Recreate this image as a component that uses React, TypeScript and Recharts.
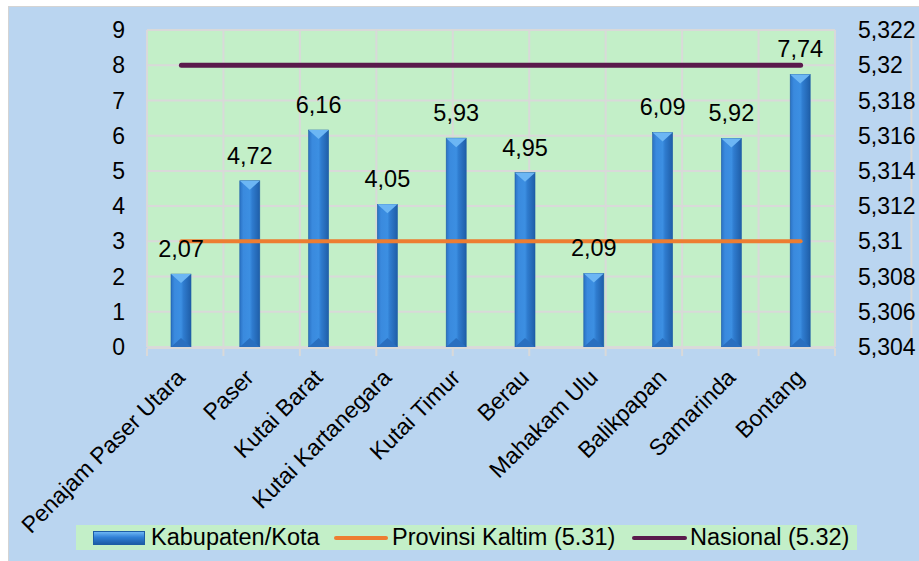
import React from 'react';
import { ComposedChart, Bar, Line, XAxis, YAxis, CartesianGrid, LabelList } from 'recharts';

const categories = [
  'Penajam Paser Utara', 'Paser', 'Kutai Barat', 'Kutai Kartanegara', 'Kutai Timur',
  'Berau', 'Mahakam Ulu', 'Balikpapan', 'Samarinda', 'Bontang',
];
const kabKota = [2.07, 4.72, 6.16, 4.05, 5.93, 4.95, 2.09, 6.09, 5.92, 7.74];
const provinsi = [5.31, 5.31, 5.31, 5.31, 5.31, 5.31, 5.31, 5.31, 5.31, 5.31];
const nasional = [5.32, 5.32, 5.32, 5.32, 5.32, 5.32, 5.32, 5.32, 5.32, 5.32];

const leftTicks = [0, 1, 2, 3, 4, 5, 6, 7, 8, 9];
const rightTicks = [5.304, 5.306, 5.308, 5.31, 5.312, 5.314, 5.316, 5.318, 5.32, 5.322];
const boundaryTicks = [0, 1, 2, 3, 4, 5, 6, 7, 8, 9, 10];

const data = categories.map((name, i) => ({
  name,
  value: kabKota[i],
  prov: provinsi[i],
  nas: nasional[i],
}));

const FONT = '"Liberation Sans", Arial, sans-serif';
const GRID = '#d9d9d9';
const ORANGE = '#ed7d31';
const PURPLE = '#5a1a4c';

const comma = (v: number) => Number(v.toFixed(3)).toString().replace('.', ',');

// bar with a bevelled, 3D-ish look like the office chart
const BevelBar = (props: any) => {
  const { x, y, width, height } = props;
  if (height <= 0) return null;
  const tri = Math.min(9, height / 2);
  return (
    <g>
      <rect x={x} y={y} width={width} height={height} fill="url(#barGrad)" stroke="#1d5da6" strokeWidth={0.6} />
      <polygon points={`${x},${y} ${x + width},${y} ${x + width / 2},${y + tri}`} fill="#6cb6f4" />
      <polygon points={`${x},${y + height} ${x + width},${y + height} ${x + width / 2},${y + height - tri}`} fill="#2a6fbf" />
    </g>
  );
};

const CatTick = (props: any) => {
  const { x, y, payload } = props;
  return (
    <g transform={`translate(${x + 5},${y + 24})`}>
      <text x={0} y={0} transform="rotate(-45)" textAnchor="end" fontSize={23} fontFamily={FONT} fill="#000">
        {payload.value}
      </text>
    </g>
  );
};

const legendText = { position: 'absolute' as const, top: 0 };

const LegendBox = () => (
  <div
    style={{
      position: 'absolute', left: 67, top: 518, width: 781, height: 25,
      background: '#c3efc8', fontFamily: FONT, fontSize: 23.5, color: '#000',
      lineHeight: '25px', whiteSpace: 'nowrap',
    }}
  >
    <div style={{ position: 'absolute', left: 17, top: 6, width: 52, height: 14, background: 'linear-gradient(#6cb6f4, #2f7fd6 45%, #1d5da6)', border: '1px solid #1d5da6', boxSizing: 'border-box' }} />
    <span style={{ ...legendText, left: 75 }}>Kabupaten/Kota</span>
    <div style={{ position: 'absolute', left: 258, top: 11, width: 54, height: 4, borderRadius: 2, background: ORANGE }} />
    <span style={{ ...legendText, left: 316 }}>Provinsi Kaltim (5.31)</span>
    <div style={{ position: 'absolute', left: 556, top: 11, width: 55, height: 4, borderRadius: 2, background: PURPLE }} />
    <span style={{ ...legendText, left: 614 }}>Nasional (5.32)</span>
  </div>
);

export default function App() {
  return (
    <div style={{ position: 'absolute', left: 0, top: 0, width: 919, height: 561, background: '#fff', overflow: 'hidden' }}>
      <div
        style={{
          position: 'absolute', left: 8, top: 6, width: 912, height: 556,
          background: '#bad5f0', border: '1px solid #d4d4d4', boxSizing: 'border-box',
        }}
      >
        <ComposedChart width={910} height={554} data={data} margin={{ top: 23, right: 0, left: 0, bottom: 212 }}>
          <defs>
            <linearGradient id="barGrad" x1="0" y1="0" x2="1" y2="0">
              <stop offset="0%" stopColor="#2b72c4" />
              <stop offset="18%" stopColor="#3a8ade" />
              <stop offset="50%" stopColor="#3c8fe2" />
              <stop offset="62%" stopColor="#2f7ccf" />
              <stop offset="100%" stopColor="#1f5ea8" />
            </linearGradient>
          </defs>
          <CartesianGrid xAxisId="grid" yAxisId="left" fill="#c3efc8" fillOpacity={1} stroke={GRID} strokeWidth={2} />
          <XAxis
            xAxisId="grid" type="number" domain={[0, 10]} ticks={boundaryTicks} height={1}
            axisLine={{ stroke: GRID, strokeWidth: 2 }} tickLine={{ stroke: GRID, strokeWidth: 2 }} tickSize={8}
            tickFormatter={() => ''}
          />
          <XAxis xAxisId="cat" dataKey="name" height={1} axisLine={false} tickLine={false} interval={0} tick={<CatTick />} />
          <YAxis
            yAxisId="left" domain={[0, 9]} ticks={leftTicks} width={138} axisLine={false} tickLine={false}
            tickMargin={16} tick={{ fontSize: 23, fontFamily: FONT, fill: '#000' }}
          />
          <YAxis
            yAxisId="right" orientation="right" domain={[5.304, 5.322]} ticks={rightTicks} width={84}
            axisLine={false} tickLine={false} tickMargin={17} tickFormatter={comma}
            tick={{ fontSize: 23, fontFamily: FONT, fill: '#000' }}
          />
          <Bar xAxisId="cat" yAxisId="left" dataKey="value" barSize={20} shape={<BevelBar />} isAnimationActive={false}>
            <LabelList dataKey="value" position="top" offset={17} formatter={(v: any) => Number(v).toFixed(2).replace('.', ',')}
              style={{ fontSize: 23.5, fontFamily: FONT, fill: '#000' }} />
          </Bar>
          <Line xAxisId="cat" yAxisId="right" dataKey="prov" stroke={ORANGE} strokeWidth={4} strokeLinecap="round" dot={false} isAnimationActive={false} />
          <Line xAxisId="cat" yAxisId="right" dataKey="nas" stroke={PURPLE} strokeWidth={5} strokeLinecap="round" dot={false} isAnimationActive={false} />
        </ComposedChart>
        <LegendBox />
      </div>
    </div>
  );
}
